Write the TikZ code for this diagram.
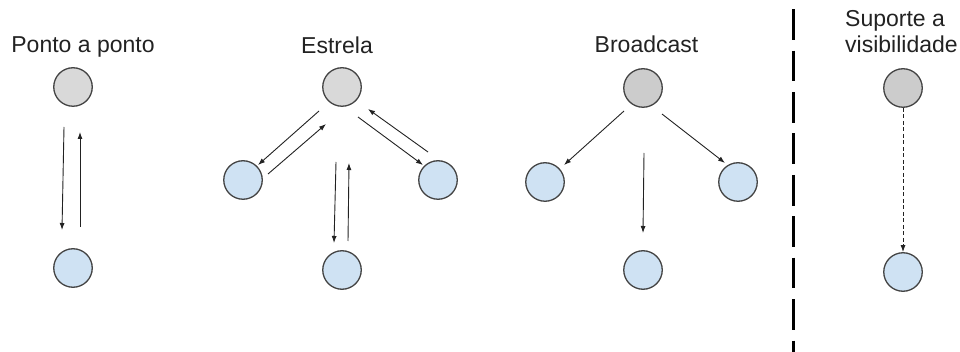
\documentclass[tikz,border=0pt]{standalone}
\usepackage{fontspec}
\setmainfont{Liberation Sans}
\usetikzlibrary{arrows.meta}
\definecolor{nodeedge}{HTML}{434343}
\definecolor{graylight}{HTML}{D9D9D9}
\definecolor{graymid}{HTML}{CCCCCC}
\definecolor{bluefill}{HTML}{CFE2F3}
\definecolor{inkcol}{HTML}{222222}
\begin{document}
\begin{tikzpicture}[x=1pt,y=-1pt,
  dot/.style={circle,draw=nodeedge,line width=1.3pt,minimum size=38.5pt,inner sep=0pt},
  srcA/.style={dot,fill=graylight},
  srcB/.style={dot,fill=graymid},
  dst/.style={dot,fill=bluefill},
  title/.style={font=\fontsize{23}{27}\selectfont,text=inkcol,inner sep=0pt,anchor=base},
  arr/.style={draw=inkcol,line width=0.9pt,-{Latex[length=7pt,width=5pt]}},
  dasharr/.style={arr,dash pattern=on 4pt off 2.5pt},
  divider/.style={draw=black,line width=3.3pt,dash pattern=on 30.7pt off 10.7pt}]
\useasboundingbox (0,0) rectangle (960,352);

% Ponto a ponto
\node[title] (tp) at (83,53) {Ponto a ponto};
\node[srcA] (p1) at (73,87) {};
\node[dst] (p2) at (73,268) {};
\draw[arr] ([shift={(-9,40)}]p1.center) -- ([shift={(-11,-38)}]p2.center);
\draw[arr] ([shift={(7,-41)}]p2.center) -- ([shift={(7,45)}]p1.center);

% Estrela
\node[title] (te) at (337,54) {Estrela};
\node[srcA] (e0) at (342,87) {};
\node[dst] (el) at (243,180) {};
\node[dst] (er) at (438,180) {};
\node[dst] (eb) at (342,270) {};
\draw[arr] ([shift={(-23,24)}]e0.center) -- ([shift={(15,-15)}]el.center);
\draw[arr] ([shift={(25,-6)}]el.center) -- ([shift={(-16,37)}]e0.center);
\draw[arr] ([shift={(16,30)}]e0.center) -- ([shift={(-15,-15)}]er.center);
\draw[arr] ([shift={(-10,-28)}]er.center) -- ([shift={(26,22)}]e0.center);
\draw[arr] ([shift={(-6,75)}]e0.center) -- ([shift={(-8,-27)}]eb.center);
\draw[arr] ([shift={(6,-29)}]eb.center) -- ([shift={(7,76)}]e0.center);

% Broadcast
\node[title] (tb) at (646.5,52.5) {Broadcast};
\node[srcB] (b0) at (643,88) {};
\node[dst] (bl) at (545,182) {};
\node[dst] (br) at (738,182) {};
\node[dst] (bb) at (643,270) {};
\draw[arr] ([shift={(-19,23)}]b0.center) -- ([shift={(19,-17)}]bl.center);
\draw[arr] ([shift={(19,26)}]b0.center) -- ([shift={(-13,-19)}]br.center);
\draw[arr] ([shift={(1,65)}]b0.center) -- ([shift={(0,-37)}]bb.center);

% Separator
\coordinate (sepTop) at (793.5,9.3);
\coordinate (sepBot) at (793.5,352);
\draw[divider] (sepTop) -- (sepBot);

% Suporte a visibilidade
\node[title,anchor=base west] (ts1) at (845,27) {Suporte a};
\node[title,anchor=base west] (ts2) at (845,53) {visibilidade};
\node[srcB] (s1) at (903,88) {};
\node[dst] (s2) at (903,272) {};
\draw[dasharr] (s1.south) -- (s2.north);
\end{tikzpicture}
\end{document}
